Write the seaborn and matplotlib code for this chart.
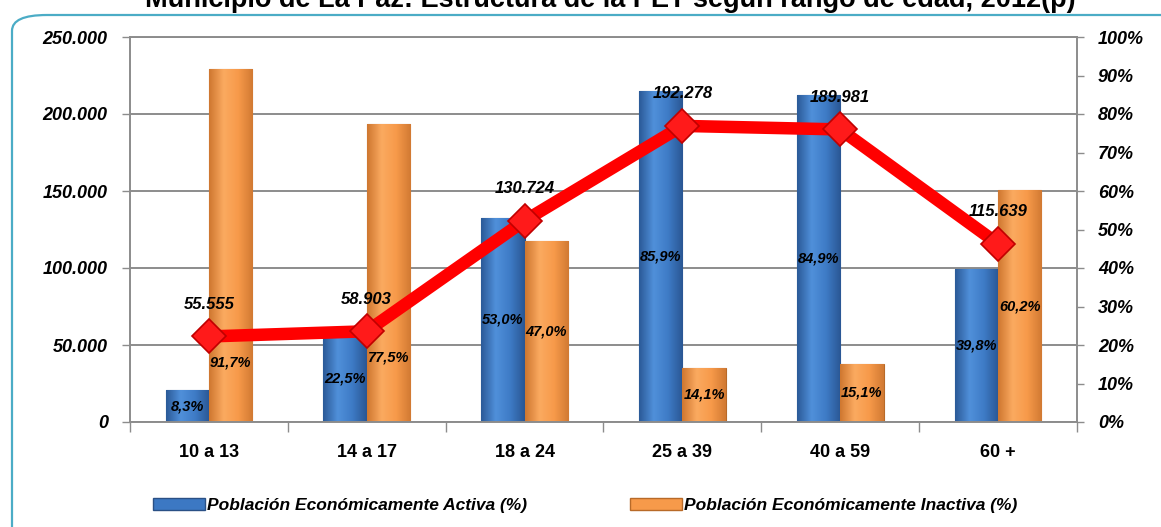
import numpy as np
import pandas as pd
import matplotlib
matplotlib.use("Agg")
import matplotlib.pyplot as plt
from matplotlib.patches import Patch, FancyBboxPatch
from matplotlib.colors import LinearSegmentedColormap
import matplotlib.ticker as mticker
import seaborn as sns

# ---------------- data ----------------
categories = ["10 a 13", "14 a 17", "18 a 24", "25 a 39", "40 a 59", "60 +"]
activa_pct = [8.3, 22.5, 53.0, 85.9, 84.9, 39.8]
inactiva_pct = [91.7, 77.5, 47.0, 14.1, 15.1, 60.2]
pet_total = [55555, 58903, 130724, 192278, 189981, 115639]
series_names = ["Población Económicamente Activa (%)", "Población Económicamente Inactiva (%)"]
left_ticks = [0, 50000, 100000, 150000, 200000, 250000]
right_ticks = list(range(0, 101, 10))
title = "Municipio de La Paz: Estructura de la PET según rango de edad, 2012(p)"

df = pd.DataFrame({
    "cat": categories * 2,
    "serie": [series_names[0]] * len(categories) + [series_names[1]] * len(categories),
    "pct": activa_pct + inactiva_pct,
})

sns.set_theme(style="white")
plt.rcParams["font.family"] = ["Liberation Sans", "DejaVu Sans"]
plt.rcParams["text.color"] = "black"
plt.rcParams["xtick.color"] = "black"
plt.rcParams["ytick.color"] = "black"

W, H = 1161, 527
fig = plt.figure(figsize=(W / 100, H / 100), dpi=100)

# rounded frame
frame = FancyBboxPatch((12 / W, -40 / H), (W + 40) / W, (H + 40 - 15) / H,
                       boxstyle="round,pad=0,rounding_size=0.03",
                       transform=fig.transFigure, facecolor="none",
                       edgecolor="#4BACC6", linewidth=1.6, zorder=-5)
fig.patches.append(frame)

x0, x1, y0, y1 = 130, 1077, 37, 422
ax = fig.add_axes([x0 / W, 1 - y1 / H, (x1 - x0) / W, (y1 - y0) / H])
ax.patch.set_visible(False)
ax2 = ax.twinx()   # line axis (absolute values, shown on the left)

blue = "#3C78C3"
orange = "#F79A4A"
sns.barplot(data=df, x="cat", y="pct", hue="serie", order=categories,
            hue_order=series_names, palette=[blue, orange], width=0.55,
            saturation=1, legend=False, ax=ax, zorder=2)

# gradient fill for bars
cm_blue = LinearSegmentedColormap.from_list("b", ["#2B5A98", "#5090DA", "#3E7BC6", "#2A5794"])
cm_orange = LinearSegmentedColormap.from_list("o", ["#CF7730", "#FBAA60", "#F79A4A", "#D27A33"])
grad = np.linspace(0, 1, 64).reshape(1, -1)
bars = list(ax.patches)
n = len(categories)
for k, bar in enumerate(bars):
    bx, by = bar.get_x(), bar.get_y()
    bw, bh = bar.get_width(), bar.get_height()
    cmap = cm_blue if k < n else cm_orange
    edge = "#2A5085" if k < n else "#B86A28"
    bar.set_edgecolor(edge)
    bar.set_linewidth(0.8)
    im = ax.imshow(grad, cmap=cmap, aspect="auto", extent=[bx, bx + bw, by, by + bh],
                   zorder=2.1, interpolation="bicubic")
    im.set_clip_path(bar)

ax.set_xlim(-0.5, n - 0.5)
ax.set_ylim(0, 100)

# percent axis (right) belongs to bar axes
ax.yaxis.tick_right()
ax.set_yticks(right_ticks[::2])
ax.set_yticks(right_ticks[1::2], minor=True)
ax.yaxis.set_major_formatter(mticker.FuncFormatter(lambda v, p: f"{v:.0f}%"))
ax.yaxis.set_minor_formatter(mticker.FuncFormatter(lambda v, p: f"{v:.0f}%"))
ax.tick_params(axis="y", which="both", right=True, left=False, labelleft=False,
               labelright=True, length=5, width=1, color="#8C8C8C", pad=10,
               labelsize=13, labelcolor="black")
ax.set_axisbelow(True)
ax.yaxis.grid(True, which="major", color="#8C8C8C", linewidth=1.4)
ax.xaxis.grid(False)

ax.set_xticks(range(n))
ax.set_xticklabels(categories, fontsize=13, fontweight="bold")
ax.set_xticks(np.arange(-0.5, n, 1), minor=True)
ax.tick_params(axis="x", which="major", length=0, pad=16, labelcolor="black")
ax.tick_params(axis="x", which="minor", bottom=True, length=7, width=1, color="#8C8C8C")
ax.set_xlabel(""); ax.set_ylabel("")
for s in ax.spines.values():
    s.set_color("#8C8C8C"); s.set_linewidth(1.4)

def fmt_pct(v):
    return f"{v:.1f}%".replace(".", ",")

# value axis (left)
ax2.yaxis.tick_left()
ax2.set_ylim(left_ticks[0], left_ticks[-1])
ax2.set_yticks(left_ticks)
ax2.yaxis.set_major_formatter(mticker.FuncFormatter(lambda v, p: f"{v:,.0f}".replace(",", ".")))
ax2.tick_params(axis="y", left=True, right=False, labelleft=True, labelright=False,
                length=6, width=1, color="#8C8C8C", pad=10, labelsize=13, labelcolor="black")
ax2.grid(False)
for s in ax2.spines.values():
    s.set_visible(False)

sns.lineplot(x=list(range(n)), y=pet_total, ax=ax2, color="#FF0000", linewidth=9,
             marker="D", markersize=17, markerfacecolor="#FF1A1A",
             markeredgecolor="#C00000", markeredgewidth=1.2, zorder=5)
ax2.set_xlim(-0.5, n - 0.5)
ax2.set_ylabel("")

for i, v in enumerate(pet_total):
    ax2.annotate(f"{v:,}".replace(",", "."), xy=(i, v), xytext=(0, 23),
                 textcoords="offset points", ha="center", va="center",
                 fontsize=12, fontweight="bold", fontstyle="italic", color="black", zorder=6)

for k, bar in enumerate(bars):
    cx = bar.get_x() + bar.get_width() / 2
    val = bar.get_height()
    if k >= n and val > 70:
        # labels moved below the line where the orange bar is very tall
        i = k - n
        ax2.annotate(fmt_pct(val), xy=(cx, pet_total[i]), xytext=(0, -19),
                     textcoords="offset points", ha="center", va="center",
                     fontsize=10.5, fontweight="bold", fontstyle="italic", zorder=6)
    else:
        ax.text(cx, val / 2, fmt_pct(val), ha="center", va="center", fontsize=10.5,
                fontweight="bold", fontstyle="italic", zorder=3)

# bold italic tick labels on both value axes
for lab in ax.get_yticklabels(which="both") + ax2.get_yticklabels():
    lab.set_fontweight("bold"); lab.set_fontstyle("italic")

# legend
handles = [Patch(facecolor=blue, edgecolor="#2A5085"), Patch(facecolor=orange, edgecolor="#B86A28")]
leg = fig.legend(handles, series_names, loc="center", bbox_to_anchor=(0.504, 0.04), ncol=2,
                 frameon=False, handlelength=3.0, handleheight=0.7, handletextpad=0.15,
                 columnspacing=5.9, prop={"weight": "bold", "style": "italic", "size": 12.5})

fig.text(0.526, 1 - 7 / H, title, ha="center", va="baseline", fontsize=19.5, fontweight="bold")

fig.savefig("out.png", dpi=100)
